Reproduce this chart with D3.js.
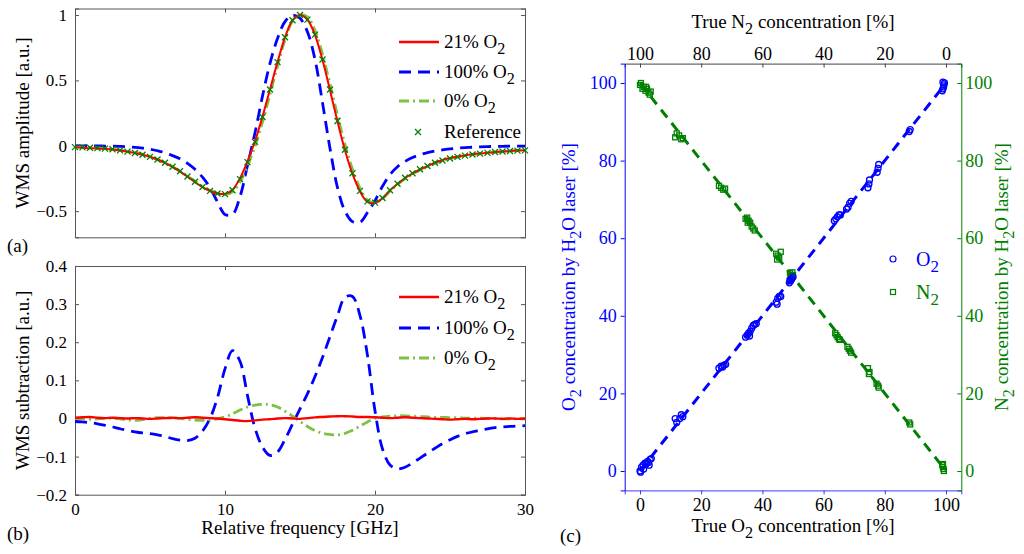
<!DOCTYPE html>
<html>
<head>
<meta charset="utf-8">
<script src="https://cdn.jsdelivr.net/npm/d3@7"></script>
<style>
body { margin: 0; background: #fff; }
</style>
</head>
<body>
<script>
var W = 1024, H = 554;
var SERIF = "'Liberation Serif', 'DejaVu Serif', 'Times New Roman', serif";

// relative frequency grid, GHz
var freq = [0,0.5,1,1.5,2,2.5,3,3.5,4,4.5,5,5.5,6,6.5,7,7.5,8,8.5,9,9.5,
  10,10.5,11,11.5,12,12.5,13,13.5,14,14.5,15,15.5,16,16.5,17,17.5,18,18.5,19,19.5,
  20,20.5,21,21.5,22,22.5,23,23.5,24,24.5,25,25.5,26,26.5,27,27.5,28,28.5,29,29.5,30];

// (a) WMS amplitude
var refAmp = [-0.010,-0.012,-0.015,-0.018,-0.022,-0.027,-0.035,-0.045,-0.055,-0.068,
  -0.085,-0.105,-0.130,-0.160,-0.195,-0.235,-0.275,-0.315,-0.345,-0.365,
  -0.370,-0.340,-0.255,-0.125,0.030,0.220,0.430,0.640,0.830,0.960,
  1.000,0.965,0.850,0.660,0.430,0.190,-0.030,-0.210,-0.345,-0.425,
  -0.435,-0.400,-0.340,-0.290,-0.245,-0.210,-0.180,-0.155,-0.130,-0.112,
  -0.097,-0.085,-0.075,-0.067,-0.060,-0.054,-0.048,-0.044,-0.040,-0.037,-0.035];
var amp21 = [-0.012,-0.015,-0.019,-0.020,-0.023,-0.029,-0.036,-0.045,-0.056,-0.068,
  -0.084,-0.105,-0.131,-0.162,-0.196,-0.237,-0.278,-0.317,-0.346,-0.365,
  -0.368,-0.336,-0.249,-0.118,0.035,0.223,0.432,0.640,0.829,0.960,
  1.000,0.964,0.847,0.656,0.425,0.184,-0.036,-0.215,-0.349,-0.429,
  -0.438,-0.402,-0.341,-0.292,-0.248,-0.212,-0.181,-0.155,-0.129,-0.110,
  -0.094,-0.083,-0.074,-0.065,-0.059,-0.054,-0.048,-0.043,-0.040,-0.036,-0.035];
var amp100 = [0.000,0.000,0.000,-0.001,-0.002,-0.003,-0.005,-0.008,-0.012,-0.018,
  -0.026,-0.038,-0.053,-0.075,-0.100,-0.135,-0.180,-0.240,-0.320,-0.430,
  -0.525,-0.525,-0.390,-0.150,0.100,0.380,0.630,0.820,0.950,0.998,
  0.975,0.870,0.660,0.330,-0.020,-0.320,-0.500,-0.580,-0.585,-0.510,
  -0.420,-0.310,-0.220,-0.160,-0.120,-0.090,-0.068,-0.052,-0.040,-0.031,
  -0.024,-0.018,-0.014,-0.011,-0.008,-0.006,-0.005,-0.004,-0.003,-0.003,-0.003];
var amp0 = [-0.010,-0.011,-0.013,-0.017,-0.022,-0.028,-0.034,-0.041,-0.050,-0.065,
  -0.085,-0.107,-0.132,-0.161,-0.195,-0.233,-0.271,-0.310,-0.341,-0.364,
  -0.374,-0.352,-0.277,-0.155,-0.005,0.183,0.394,0.610,0.811,0.954,
  1.000,0.986,0.882,0.699,0.472,0.233,0.009,-0.179,-0.325,-0.416,
  -0.435,-0.404,-0.346,-0.297,-0.252,-0.216,-0.185,-0.159,-0.133,-0.115,
  -0.099,-0.087,-0.076,-0.068,-0.061,-0.054,-0.048,-0.043,-0.039,-0.036,-0.034];

// (b) WMS subtraction
var sub21 = [0.002,0.003,0.004,0.002,0.001,0.002,0.001,0.000,0.001,0.000,
  -0.001,0.000,0.001,0.002,0.001,0.002,0.003,0.002,0.001,0.000,
  -0.002,-0.004,-0.006,-0.007,-0.005,-0.003,-0.002,0.000,0.001,0.000,
  -0.001,0.001,0.003,0.004,0.005,0.006,0.006,0.005,0.004,0.004,
  0.003,0.002,0.001,0.002,0.003,0.002,0.001,0.000,-0.001,-0.002,
  -0.003,-0.002,-0.001,-0.002,-0.001,0.000,0.000,-0.001,0.000,-0.001,0.000];
var sub100 = [-0.008,-0.009,-0.011,-0.014,-0.018,-0.022,-0.027,-0.031,-0.035,-0.038,
  -0.040,-0.043,-0.047,-0.053,-0.057,-0.058,-0.052,-0.033,0.000,0.055,
  0.130,0.178,0.150,0.060,-0.025,-0.075,-0.097,-0.088,-0.055,-0.015,
  0.025,0.065,0.110,0.160,0.215,0.270,0.318,0.320,0.270,0.165,
  0.020,-0.080,-0.122,-0.132,-0.128,-0.117,-0.104,-0.091,-0.078,-0.066,
  -0.056,-0.047,-0.040,-0.035,-0.031,-0.027,-0.024,-0.022,-0.021,-0.020,-0.019];
var sub0 = [0.000,-0.001,-0.002,-0.001,0.000,0.001,-0.001,-0.004,-0.005,-0.003,
  0.000,0.002,0.002,0.001,0.000,-0.002,-0.004,-0.005,-0.004,-0.001,
  0.004,0.012,0.022,0.030,0.035,0.037,0.036,0.030,0.019,0.006,
  -0.008,-0.021,-0.032,-0.039,-0.042,-0.043,-0.039,-0.031,-0.020,-0.009,
  0.000,0.004,0.006,0.007,0.007,0.006,0.005,0.004,0.003,0.003,
  0.002,0.002,0.001,0.001,0.001,0.000,0.000,-0.001,-0.001,-0.001,-0.001];

// (c) concentrations, %
var o2True = [0,0.2,0.5,1,1.2,1.6,2,2.5,2.8,3,3.3,3.7,
  11.5,12,13,13.5,14, 25.8,26.5,27,27.5,28,
  34.5,35,35.5,35.8,36,36.5,37,37.5,38, 44.5,44.8,45,45.5,46,
  48.8,49,49.2,49.6,50, 63.5,64,64.5,65,65.5, 67.5,68,68.5,69,
  74.5,74.8,75, 77.5,77.8,78, 88,88.3, 98.8,99,99,99.2,99.3,99.5];
var o2Meas = [0,-0.3,1,1.5,0.5,2,1.8,2.5,2.2,1.5,3,3.2,
  13.5,12.5,13.5,14.5,14, 26.5,27,26.8,27.3,27.5,
  34.5,35,35.5,34.8,36,36.8,37.5,37.8,38, 43.5,43,44.5,45,45,
  48.5,49.3,49,49.5,50, 64.5,65,65.5,66,66, 67.5,68,69,69.5,
  73,74,75, 77,78,79, 87.5,88, 98,98.5,100.2,99,99.5,100];
var n2True = [0,0.3,0.8,1.2,1.8,2,2.3,2.8,3.2,3.5,
  11.5,12,12.8,13.5,14, 25.8,26.5,27.2,27.8,
  34.5,35,35.2,35.5,36,36.5,37,37.5, 44.5,44.8,45,45.5,46,
  49,49.3,49.6,49.8,50, 63.8,64.2,64.6,65,65.3, 67.8,68.2,68.6,69,
  74.5,74.8,75, 77.3,77.8,78, 88,88.3, 98.8,99,99,99.2,99.3];
var n2Meas = [99.5,100,98.5,99,98,99,98.5,97.5,97,97.8,
  86,87,86.5,85.5,85.8, 73.5,73,72.5,72.8,
  65,65.3,64,64.5,64,63,62.5,62, 56,54.5,55.5,55,56.5,
  51,50.5,50,51.2,50.5, 35.5,35,34.5,34,33.8, 32,31.5,31,30.5,
  26.5,25,25.5, 22.5,22,21.5, 12.5,12, 1.5,1,1.8,0.5,0];
var fitX = [0, 100];
var o2Fit = [0, 100];
var n2Fit = [100, 0];

var ampTicks = [-0.5, 0, 0.5, 1];
var subTicks = [-0.2, -0.1, 0, 0.1, 0.2, 0.3, 0.4];
var freqTicks = [0, 10, 20, 30];
var concTicks = [0, 20, 40, 60, 80, 100];

var RED = "#ff0000", BLUE = "#0000ff", LGREEN = "#7dc243", DGREEN = "#008000";

var svg = d3.select("body").append("svg")
  .attr("width", W).attr("height", H)
  .attr("font-family", SERIF);

var fmt = d3.format("~g");

// text with subscripts: parts are strings or [string] for subscript
function label(x, y, parts, o) {
  o = o || {};
  var t = svg.append("text")
    .attr("x", x).attr("y", y)
    .attr("font-family", SERIF)
    .attr("font-size", o.size || 19)
    .attr("fill", o.fill || "#000")
    .attr("text-anchor", o.anchor || "start");
  if (o.rotate) t.attr("transform", "rotate(-90," + x + "," + y + ")");
  var down = false;
  parts.forEach(function (p) {
    if (typeof p === "string") {
      t.append("tspan").attr("dy", down ? -6 : 0).text(p);
      down = false;
    } else {
      t.append("tspan").attr("dy", 6).attr("font-size", "0.85em").text(p[0]);
      down = true;
    }
  });
  return t;
}

function styleAxis(g, color, size) {
  g.attr("font-family", SERIF).attr("font-size", size);
  g.select(".domain").attr("stroke", color);
  g.selectAll(".tick line").attr("stroke", color);
  g.selectAll(".tick text").attr("fill", "#000");
}

// panels a and b share the x scale
var x = d3.scaleLinear().domain([0, 30]).range([75, 525]);
var ya = d3.scaleLinear().domain([-0.7, 1.05]).range([237.3, 8.5]);
var yb = d3.scaleLinear().domain([-0.2, 0.4]).range([494.7, 266]);

function frame(y, yt, showX) {
  var ax = "#555";
  var b = svg.append("g").attr("transform", "translate(0," + y.range()[0] + ")")
    .call(d3.axisBottom(x).tickValues(freqTicks).tickSize(-4).tickPadding(8)
      .tickFormat(showX ? fmt : ""));
  styleAxis(b, ax, 17);
  var t = svg.append("g").attr("transform", "translate(0," + y.range()[1] + ")")
    .call(d3.axisTop(x).tickValues(freqTicks).tickSize(-4).tickFormat(""));
  styleAxis(t, ax, 17);
  var l = svg.append("g").attr("transform", "translate(" + x.range()[0] + ",0)")
    .call(d3.axisLeft(y).tickValues(yt).tickSize(-4).tickPadding(8).tickFormat(fmt));
  styleAxis(l, ax, 17);
  var r = svg.append("g").attr("transform", "translate(" + x.range()[1] + ",0)")
    .call(d3.axisRight(y).tickValues(yt).tickSize(-4).tickFormat(""));
  styleAxis(r, ax, 17);
}

function curve(y, vals, color, dash, width) {
  var line = d3.line()
    .x(function (d, i) { return x(freq[i]); })
    .y(function (d) { return y(d); })
    .curve(d3.curveCatmullRom.alpha(0.5));
  svg.append("path").datum(vals)
    .attr("d", line)
    .attr("fill", "none")
    .attr("stroke", color)
    .attr("stroke-width", width)
    .attr("stroke-dasharray", dash);
}

var cross = "M-3,-3L3,3M-3,3L3,-3";

// ---- (a)
frame(ya, ampTicks, false);
curve(ya, amp100, BLUE, "12,7", 2.8);
curve(ya, amp0, LGREEN, "10,4,2,4", 2.8);
curve(ya, amp21, RED, null, 2);
svg.append("g").selectAll("path").data(refAmp).enter().append("path")
  .attr("d", cross)
  .attr("transform", function (d, i) { return "translate(" + x(freq[i]) + "," + ya(d) + ")"; })
  .attr("fill", "none").attr("stroke", DGREEN).attr("stroke-width", 1.3);

function legendLine(y0, color, dash, txt, w) {
  svg.append("line").attr("x1", 399).attr("x2", 439).attr("y1", y0).attr("y2", y0)
    .attr("stroke", color).attr("stroke-width", w).attr("stroke-dasharray", dash);
  label(444, y0 + 6, txt, { size: 19 });
}
legendLine(42, RED, null, ["21% O", ["2"]], 2.4);
legendLine(72, BLUE, "12,7", ["100% O", ["2"]], 2.8);
legendLine(101, LGREEN, "10,4,2,4", ["0% O", ["2"]], 2.8);
svg.append("path").attr("d", cross).attr("transform", "translate(418,132)")
  .attr("fill", "none").attr("stroke", DGREEN).attr("stroke-width", 1.3);
label(444, 138, ["Reference"], { size: 19 });

label(29, (ya.range()[0] + ya.range()[1]) / 2, ["WMS amplitude [a.u.]"], { rotate: true, anchor: "middle", size: 19 });
label(7, 252, ["(a)"], { size: 19 });

// ---- (b)
frame(yb, subTicks, true);
curve(yb, sub100, BLUE, "12,7", 2.8);
curve(yb, sub0, LGREEN, "10,4,2,4", 2.8);
curve(yb, sub21, RED, null, 2.4);
legendLine(297, RED, null, ["21% O", ["2"]], 2.4);
legendLine(328, BLUE, "12,7", ["100% O", ["2"]], 2.8);
legendLine(358, LGREEN, "10,4,2,4", ["0% O", ["2"]], 2.8);
label(29, (yb.range()[0] + yb.range()[1]) / 2, ["WMS subtraction [a.u.]"], { rotate: true, anchor: "middle", size: 19 });
label(300, 534, ["Relative frequency [GHz]"], { anchor: "middle", size: 19 });
label(7, 540, ["(b)"], { size: 19 });

// ---- (c)
var xc = d3.scaleLinear().domain([-5, 105]).range([624.7, 961.3]);
var xn = d3.scaleLinear().domain([105, -5]).range([624.7, 961.3]);
var yc = d3.scaleLinear().domain([-5, 105]).range([490.4, 63.6]);

var cb = svg.append("g").attr("transform", "translate(0," + yc.range()[0] + ")")
  .call(d3.axisBottom(xc).tickValues(concTicks).tickSize(4).tickPadding(4).tickFormat(fmt));
styleAxis(cb, "#3a3aff", 18);
var ct = svg.append("g").attr("transform", "translate(0," + yc.range()[1] + ")")
  .call(d3.axisTop(xn).tickValues(concTicks).tickSize(-4).tickPadding(4).tickFormat(fmt));
styleAxis(ct, "#444", 18);
var cl = svg.append("g").attr("transform", "translate(" + xc.range()[0] + ",0)")
  .call(d3.axisLeft(yc).tickValues(concTicks).tickSize(4).tickPadding(4).tickFormat(fmt));
styleAxis(cl, BLUE, 18);
cl.selectAll(".tick text").attr("fill", BLUE);
var cr = svg.append("g").attr("transform", "translate(" + xc.range()[1] + ",0)")
  .call(d3.axisRight(yc).tickValues(concTicks).tickSize(-4).tickPadding(4).tickFormat(fmt));
styleAxis(cr, DGREEN, 18);
cr.selectAll(".tick text").attr("fill", DGREEN);

var fitLine = function (vals) {
  return d3.line().x(function (d, i) { return xc(fitX[i]); }).y(function (d) { return yc(d); })(vals);
};
svg.append("path").attr("d", fitLine(n2Fit)).attr("fill", "none")
  .attr("stroke", DGREEN).attr("stroke-width", 3).attr("stroke-dasharray", "10,7");
svg.append("path").attr("d", fitLine(o2Fit)).attr("fill", "none")
  .attr("stroke", BLUE).attr("stroke-width", 3).attr("stroke-dasharray", "10,7");

svg.append("g").selectAll("rect").data(n2Meas).enter().append("rect")
  .attr("x", function (d, i) { return xc(n2True[i]) - 2.5; })
  .attr("y", function (d) { return yc(d) - 2.5; })
  .attr("width", 5).attr("height", 5)
  .attr("fill", "none").attr("stroke", DGREEN).attr("stroke-width", 1.3);
svg.append("g").selectAll("circle").data(o2Meas).enter().append("circle")
  .attr("cx", function (d, i) { return xc(o2True[i]); })
  .attr("cy", function (d) { return yc(d); })
  .attr("r", 3)
  .attr("fill", "none").attr("stroke", BLUE).attr("stroke-width", 1.3);

// legend (c)
svg.append("circle").attr("cx", 893).attr("cy", 259).attr("r", 3)
  .attr("fill", "none").attr("stroke", BLUE).attr("stroke-width", 1.2);
label(916, 266, ["O", ["2"]], { fill: BLUE, size: 20 });
svg.append("rect").attr("x", 890.5).attr("y", 289.5).attr("width", 5).attr("height", 5)
  .attr("fill", "none").attr("stroke", DGREEN).attr("stroke-width", 1.2);
label(916, 299, ["N", ["2"]], { fill: DGREEN, size: 20 });

var cmid = (yc.range()[0] + yc.range()[1]) / 2;
label(575, cmid, ["O", ["2"], " concentration by H", ["2"], "O laser [%]"], { rotate: true, anchor: "middle", fill: BLUE, size: 19 });
label(1008, cmid, ["N", ["2"], " concentration by H", ["2"], "O laser [%]"], { rotate: true, anchor: "middle", fill: DGREEN, size: 19 });
label(793, 28, ["True N", ["2"], " concentration [%]"], { anchor: "middle", size: 19 });
label(793, 532, ["True O", ["2"], " concentration [%]"], { anchor: "middle", size: 19 });
label(560, 542, ["(c)"], { size: 19 });
</script>
</body>
</html>
